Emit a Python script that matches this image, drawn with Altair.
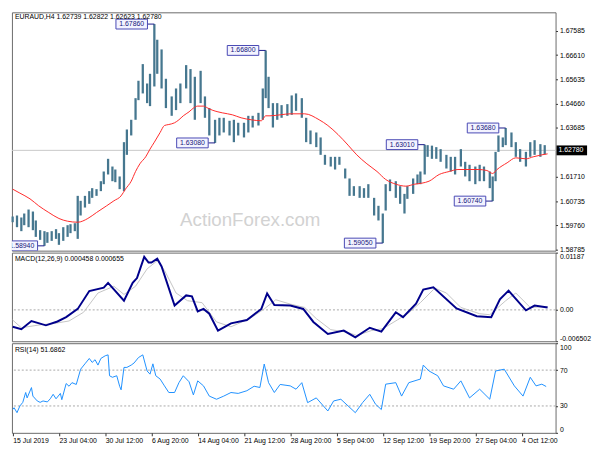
import json
import altair as alt
import pandas as pd

# ---------------- data ----------------
BAR_IDX = [0, 3, 6, 8, 11, 14, 16, 19, 22, 24, 27, 30, 32, 35, 38, 40, 43, 45, 47, 50,
           53, 55, 58, 61, 63, 66, 69, 71, 74, 77, 79, 82, 85, 87, 90, 93, 95, 98, 100, 103,
           106, 110, 113, 116, 120, 123, 126, 130, 133, 136, 140, 143, 146, 150, 153, 156, 160, 163, 166, 170,
           173, 175, 177, 180, 183, 186, 190, 193, 196, 200, 203, 206, 210, 213, 216, 220, 223, 226, 230, 233,
           236, 240, 243, 246, 250, 253, 256, 258, 261, 265, 268, 271, 273, 277, 280, 282, 285, 287, 290, 293,
           296, 300, 303, 306, 310, 313, 316, 320, 323, 326, 330, 332, 334, 336, 339, 341, 345, 348, 351, 355,
           358, 361, 365, 368]
BAR_HIGH = [1.6012, 1.6016, 1.6008, 1.6024, 1.6040, 1.6032, 1.5996, 1.5957, 1.5953, 1.5949,
            1.5953, 1.5961, 1.5945, 1.5969, 1.5977, 1.5981, 1.5985, 1.6095, 1.6075, 1.6095,
            1.6114, 1.6126, 1.6122, 1.6154, 1.6193, 1.6244, 1.6213, 1.6201, 1.6173, 1.6311,
            1.6362, 1.6401, 1.6488, 1.6558, 1.6625, 1.6547, 1.6586, 1.6786, 1.6723, 1.6684,
            1.6566, 1.6495, 1.6527, 1.6547, 1.6621, 1.6605, 1.6574, 1.6598, 1.6495, 1.6448,
            1.6401, 1.6409, 1.6409, 1.6397, 1.6401, 1.6389, 1.6389, 1.6417, 1.6417, 1.6429,
            1.6527, 1.6680, 1.6574, 1.6468, 1.6468, 1.6460, 1.6464, 1.6499, 1.6507, 1.6488,
            1.6409, 1.6358, 1.6350, 1.6330, 1.6260, 1.6252, 1.6252, 1.6252, 1.6205, 1.6165,
            1.6134, 1.6134, 1.6126, 1.6142, 1.6087, 1.6055, 1.6024, 1.6142, 1.6161, 1.6154,
            1.6134, 1.6103, 1.6134, 1.6165, 1.6181, 1.6193, 1.6301, 1.6299, 1.6297, 1.6291,
            1.6283, 1.6260, 1.6252, 1.6252, 1.6283, 1.6232, 1.6220, 1.6213, 1.6220, 1.6213,
            1.6193, 1.6173, 1.6272, 1.6338, 1.6330, 1.6368, 1.6350, 1.6311, 1.6283, 1.6272,
            1.6311, 1.6319, 1.6303, 1.6299]
BAR_LOW = [1.5989, 1.5969, 1.5953, 1.5977, 1.5969, 1.5957, 1.5930, 1.5918, 1.5894, 1.5906,
           1.5914, 1.5922, 1.5898, 1.5914, 1.5930, 1.5945, 1.5953, 1.5922, 1.6016, 1.6048,
           1.6063, 1.6087, 1.6095, 1.6114, 1.6142, 1.6181, 1.6154, 1.6150, 1.6122, 1.6114,
           1.6260, 1.6338, 1.6401, 1.6480, 1.6507, 1.6468, 1.6456, 1.6535, 1.6586, 1.6527,
           1.6448, 1.6417, 1.6440, 1.6468, 1.6527, 1.6468, 1.6401, 1.6468, 1.6409, 1.6338,
           1.6308, 1.6338, 1.6350, 1.6338, 1.6311, 1.6338, 1.6330, 1.6350, 1.6370, 1.6378,
           1.6401, 1.6488, 1.6448, 1.6370, 1.6401, 1.6409, 1.6417, 1.6421, 1.6437, 1.6409,
           1.6311, 1.6303, 1.6291, 1.6260, 1.6220, 1.6213, 1.6201, 1.6220, 1.6165, 1.6095,
           1.6095, 1.6087, 1.6087, 1.6087, 1.6016, 1.5996, 1.5905, 1.6036, 1.6114, 1.6087,
           1.6063, 1.6024, 1.6083, 1.6103, 1.6142, 1.6142, 1.6181, 1.6252, 1.6244, 1.6244,
           1.6232, 1.6205, 1.6193, 1.6181, 1.6213, 1.6173, 1.6154, 1.6142, 1.6154, 1.6154,
           1.6126, 1.6074, 1.6154, 1.6272, 1.6291, 1.6299, 1.6291, 1.6252, 1.6232, 1.6213,
           1.6252, 1.6260, 1.6252, 1.6262]

MA_IDX = [0, 5, 12, 18, 25, 32, 38, 45, 52, 58, 65, 70, 75, 78, 82, 85, 88, 92, 95, 98,
          102, 105, 108, 112, 115, 118, 122, 125, 128, 132, 135, 138, 142, 145, 152, 158, 165, 172, 175, 178,
          185, 192, 202, 212, 218, 225, 232, 238, 245, 252, 258, 265, 272, 278, 283, 288, 295, 302, 308, 322,
          328, 332, 335, 342, 348, 355, 360, 366, 370]
MA_VAL = [1.6122, 1.6106, 1.6083, 1.6055, 1.6028, 1.6004, 1.5993, 1.5989, 1.6004, 1.6028,
          1.6055, 1.6075, 1.6095, 1.6122, 1.6154, 1.6193, 1.6224, 1.6252, 1.6283, 1.6311,
          1.6350, 1.6378, 1.6382, 1.6389, 1.6401, 1.6417, 1.6433, 1.6448, 1.6456, 1.6456,
          1.6448, 1.6440, 1.6433, 1.6429, 1.6421, 1.6409, 1.6401, 1.6397, 1.6417, 1.6417,
          1.6421, 1.6425, 1.6425, 1.6401, 1.6378, 1.6342, 1.6299, 1.6260, 1.6224, 1.6193,
          1.6161, 1.6142, 1.6134, 1.6142, 1.6146, 1.6154, 1.6181, 1.6193, 1.6201, 1.6201,
          1.6197, 1.6185, 1.6201, 1.6228, 1.6248, 1.6244, 1.6252, 1.6260, 1.6264]

MACD_IDX = [0, 6, 13, 23, 31, 37, 45, 53, 63, 66, 77, 83, 86, 91, 94, 96, 100, 103, 112, 120,
            124, 128, 132, 136, 142, 151, 162, 172, 176, 181, 192, 201, 208, 218, 229, 237, 247, 255, 265, 270,
            279, 284, 291, 307, 321, 331, 337, 343, 355, 361, 370]
MACD_VAL = [-0.0035, -0.0040, -0.0023, -0.0032, -0.0024, -0.0015, 0.0002, 0.0039, 0.0046, 0.0056,
            0.0019, 0.0056, 0.0066, 0.0110, 0.0098, 0.0098, 0.0106, 0.0090, 0.0009, 0.0030,
            0.0028, -0.0003, 0.0002, -0.0008, -0.0043, -0.0028, -0.0021, 0.0002, 0.0034, 0.0010,
            0.0009, 0.0002, -0.0025, -0.0050, -0.0043, -0.0057, -0.0037, -0.0045, -0.0005, -0.0015,
            0.0013, 0.0042, 0.0047, 0.0003, -0.0013, -0.0015, 0.0022, 0.0040, -0.0001, 0.0009,
            0.0005]
SIG_IDX = [0, 6, 19, 29, 39, 49, 59, 70, 77, 85, 93, 100, 105, 113, 121, 131, 141, 151, 164, 174,
           182, 192, 202, 210, 220, 231, 238, 248, 256, 266, 274, 282, 292, 300, 310, 323, 330, 341, 348, 358,
           370]
SIG_VAL = [-0.0021, -0.0037, -0.0031, -0.0028, -0.0023, -0.0005, 0.0035, 0.0049, 0.0032, 0.0049,
           0.0085, 0.0102, 0.0082, 0.0035, 0.0019, 0.0015, -0.0025, -0.0035, -0.0018, 0.0002,
           0.0021, 0.0012, 0.0005, -0.0018, -0.0041, -0.0046, -0.0053, -0.0043, -0.0039, -0.0021,
           -0.0006, 0.0015, 0.0045, 0.0035, 0.0005, -0.0008, -0.0010, 0.0019, 0.0035, 0.0005,
           0.0007]

RSI_IDX = [0, 1, 3, 5, 7, 9, 10, 13, 14, 17, 19, 21, 24, 26, 28, 30, 33, 34, 37, 39,
           41, 44, 47, 50, 53, 55, 57, 59, 61, 64, 66, 67, 69, 72, 74, 75, 77, 79, 82, 84,
           87, 90, 93, 95, 97, 99, 102, 105, 108, 112, 115, 118, 122, 125, 128, 132, 136, 141, 146, 151,
           156, 162, 167, 171, 174, 177, 181, 185, 192, 196, 200, 204, 210, 218, 222, 227, 232, 237, 242, 247,
           251, 255, 258, 265, 269, 274, 282, 284, 288, 294, 298, 305, 310, 316, 323, 330, 334, 340, 347, 353,
           358, 362, 366, 369]
RSI_VAL = [26, 28, 22.5, 30, 34, 45, 39, 50.5, 41, 35.6, 34, 35.6, 34.5, 38, 43, 38, 44, 37, 55, 52,
           56, 54, 71, 77, 83, 78.6, 81.6, 75.6, 83, 86, 87, 63.7, 62, 63.7, 52, 48, 73, 73, 75.6, 78,
           84, 87, 69, 65.5, 77, 63.7, 60, 52.4, 45, 45, 56, 63.7, 57, 42.3, 58, 52.4, 41, 37.5, 41, 45,
           44, 47, 52, 50.6, 76.8, 56, 45, 54, 52.4, 48.7, 56, 33.7, 39, 24.4, 35.6, 37.5, 30, 22.5, 33.7, 43,
           31.9, 26, 54.3, 56, 41, 56, 60, 75.6, 69, 63.7, 52.4, 48.7, 58, 39, 48.7, 37.5, 69, 71, 52.4, 41,
           62, 52.4, 54.3, 51.7]

ANN_IDX = [98, 175, 140, 22, 256, 285, 341, 332]
ANN_PRICE = [1.6786, 1.6680, 1.6308, 1.5894, 1.5905, 1.6301, 1.6368, 1.6074]
ANN_TEXT = ["1.67860", "1.66800", "1.63080", "1.58940", "1.59050", "1.63010", "1.63680", "1.60740"]

X_TICK_IDX = [0, 32, 64, 96, 128, 160, 192, 224, 256, 288, 320, 352]
X_TICK_LABELS = ["15 Jul 2019", "23 Jul 04:00", "30 Jul 12:00", "6 Aug 20:00", "14 Aug 04:00",
                 "21 Aug 12:00", "28 Aug 20:00", "5 Sep 04:00", "12 Sep 12:00", "19 Sep 20:00",
                 "27 Sep 04:00", "4 Oct 12:00"]
PRICE_TICKS = [1.67585, 1.66610, 1.65635, 1.64660, 1.63685, 1.61710, 1.60735, 1.59760, 1.58785]
MACD_TICKS = [-0.006502, 0.0, 0.01187]
MACD_TICK_LABELS = ["-0.006502", "0.00", "0.01187"]
RSI_TICKS = [0, 30, 70, 100]
RSI_LEVELS = [30, 70]
LAST_PRICE = 1.6278
LAST_PRICE_TEXT = "1.62780"
HEADER = "EURAUD,H4  1.62739 1.62822 1.62623 1.62780"
MACD_TITLE = "MACD(12,26,9) 0.000458 0.000655"
RSI_TITLE = "RSI(14) 51.6862"
WATERMARK = "ActionForex.com"

# ---------------- styling ----------------
W = 552
H_MAIN, H_MACD, H_RSI = 242, 90, 91
FONT = "Liberation Sans"
FS = 7
BAR_COLOR = "#46778f"

xscale = alt.Scale(domain=[-0.5, 375.5], nice=False, zero=False)
x_hidden = alt.X("i:Q", scale=xscale, axis=None)

price_scale = alt.Scale(domain=[1.58746, 1.68333], nice=False, zero=False)
price_axis = alt.Axis(orient="right", values=PRICE_TICKS, format=".5f", tickSize=2,
                      labelPadding=2, labelFlush=False, title=None)

bars_df = pd.DataFrame({"i": BAR_IDX, "high": BAR_HIGH, "low": BAR_LOW})
ma_df = pd.DataFrame({"i": MA_IDX, "p": MA_VAL})
last_df = pd.DataFrame({"p": [LAST_PRICE], "t": [LAST_PRICE_TEXT]})
ann_df = pd.DataFrame({"i": ANN_IDX, "p": ANN_PRICE, "t": ANN_TEXT})

cur_line = alt.Chart(last_df).mark_rule(color="#c8c8c8", strokeWidth=1).encode(
    y=alt.Y("p:Q", scale=price_scale, axis=price_axis))

watermark = alt.Chart(pd.DataFrame({"t": [WATERMARK]})).mark_text(
    font=FONT, fontSize=19, color="#d2d2d2", align="center", baseline="middle").encode(
    x=alt.value(242), y=alt.value(211), text="t:N")

bars = alt.Chart(bars_df).mark_rule(color=BAR_COLOR, strokeWidth=2.3).encode(
    x=x_hidden,
    y=alt.Y("low:Q", scale=price_scale, axis=price_axis),
    y2="high:Q")

ma = alt.Chart(ma_df).mark_line(color="#ff2a2a", strokeWidth=1, interpolate="monotone").encode(
    x=x_hidden, y=alt.Y("p:Q", scale=price_scale, axis=price_axis))

conn = alt.Chart(ann_df).mark_rule(color="#1a1a8a", strokeWidth=1, xOffset=-7, clip=True).encode(
    x=x_hidden, x2="i:Q", y=alt.Y("p:Q", scale=price_scale, axis=price_axis))

box = alt.Chart(ann_df).mark_rect(fill="#f3f3ff", stroke="#4848b4", strokeWidth=1,
                                  xOffset=-39, x2Offset=-7, yOffset=-5, y2Offset=5, clip=True).encode(
    x=x_hidden, x2="i:Q", y=alt.Y("p:Q", scale=price_scale, axis=price_axis), y2="p:Q")

box_text = alt.Chart(ann_df).mark_text(font=FONT, fontSize=FS, color="#15157a", dx=-23,
                                       align="center", baseline="middle", clip=True).encode(
    x=x_hidden, y=alt.Y("p:Q", scale=price_scale, axis=price_axis), text="t:N")

header = alt.Chart(pd.DataFrame({"t": [HEADER]})).mark_text(
    font=FONT, fontSize=FS, color="black", align="left", baseline="middle").encode(
    x=alt.value(3), y=alt.value(5), text="t:N")

tag = alt.Chart(last_df).mark_rect(color="black", yOffset=-5, y2Offset=5).encode(
    x=alt.value(W + 1), x2=alt.value(W + 32),
    y=alt.Y("p:Q", scale=price_scale, axis=price_axis), y2="p:Q")
tag_text = alt.Chart(last_df).mark_text(font=FONT, fontSize=FS, color="white",
                                        align="left", baseline="middle").encode(
    x=alt.value(W + 3), y=alt.Y("p:Q", scale=price_scale, axis=price_axis), text="t:N")

main = alt.layer(cur_line, watermark, bars, ma, conn, box, box_text, header, tag, tag_text).properties(
    width=W, height=H_MAIN)

# ---------------- MACD panel ----------------
macd_scale = alt.Scale(domain=[MACD_TICKS[0], MACD_TICKS[-1]], nice=False, zero=False)
macd_axis = alt.Axis(orient="right", values=MACD_TICKS, tickSize=2, labelPadding=2, labelFlush=True,
                     labelExpr=f"{json.dumps(MACD_TICK_LABELS)}[indexof({json.dumps(MACD_TICKS)}, datum.value)]",
                     title=None)
macd_df = pd.DataFrame({"i": MACD_IDX, "v": MACD_VAL})
sig_df = pd.DataFrame({"i": SIG_IDX, "v": SIG_VAL})

zero = alt.Chart(pd.DataFrame({"v": [0.0]})).mark_rule(color="#a8a8a8", strokeDash=[2, 2]).encode(
    y=alt.Y("v:Q", scale=macd_scale, axis=macd_axis))
sig = alt.Chart(sig_df).mark_line(color="#c4c4c4", strokeWidth=1).encode(
    x=x_hidden, y=alt.Y("v:Q", scale=macd_scale, axis=macd_axis))
macd_line = alt.Chart(macd_df).mark_line(color="#00008b", strokeWidth=2).encode(
    x=x_hidden, y=alt.Y("v:Q", scale=macd_scale, axis=macd_axis))
macd_title = alt.Chart(pd.DataFrame({"t": [MACD_TITLE]})).mark_text(
    font=FONT, fontSize=FS, color="black", align="left", baseline="middle").encode(
    x=alt.value(3), y=alt.value(7), text="t:N")
macd = alt.layer(zero, sig, macd_line, macd_title).properties(width=W, height=H_MACD)

# ---------------- RSI panel ----------------
rsi_scale = alt.Scale(domain=[0, 100], nice=False, zero=False)
rsi_axis = alt.Axis(orient="right", values=RSI_TICKS, tickSize=2, labelPadding=2, labelFlush=True,
                    title=None)
x_bottom = alt.X("i:Q", scale=xscale, axis=alt.Axis(
    values=X_TICK_IDX,
    labelExpr=f"{json.dumps(X_TICK_LABELS)}[indexof({json.dumps(X_TICK_IDX)}, datum.value)]",
    labelAlign="left", labelFlush=False, labelOverlap=False, tickSize=3, labelPadding=1,
    title=None))
rsi_df = pd.DataFrame({"i": RSI_IDX, "v": RSI_VAL})
levels = alt.Chart(pd.DataFrame({"v": RSI_LEVELS})).mark_rule(color="#a8a8a8", strokeDash=[2, 2]).encode(
    y=alt.Y("v:Q", scale=rsi_scale, axis=rsi_axis))
rsi_line = alt.Chart(rsi_df).mark_line(color="#1e90ff", strokeWidth=1).encode(
    x=x_bottom, y=alt.Y("v:Q", scale=rsi_scale, axis=rsi_axis))
rsi_title = alt.Chart(pd.DataFrame({"t": [RSI_TITLE]})).mark_text(
    font=FONT, fontSize=FS, color="black", align="left", baseline="middle").encode(
    x=alt.value(3), y=alt.value(7), text="t:N")
rsi = alt.layer(levels, rsi_line, rsi_title).properties(width=W, height=H_RSI)

chart = alt.vconcat(main, macd, rsi, spacing=2, bounds="flush", padding=0).configure_view(
    stroke="#6a6a6a", strokeWidth=1
).configure_axis(
    labelFont=FONT, labelFontSize=FS, labelColor="black", tickColor="#333333",
    domain=False, grid=False
)

chart.save("out.html", embed_options={"renderer": "svg", "actions": False})
